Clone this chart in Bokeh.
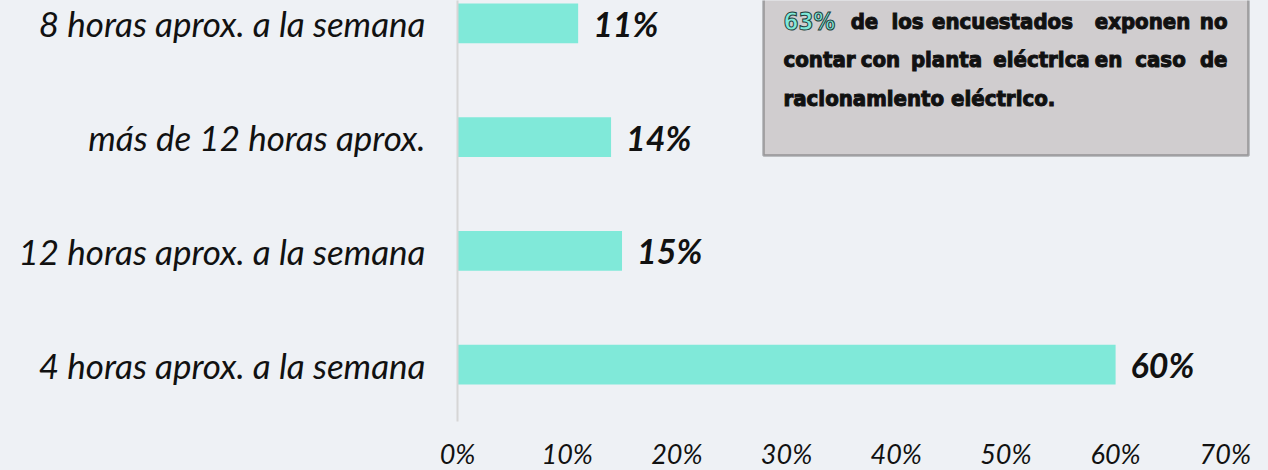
from bokeh.plotting import figure
from bokeh.models import Range1d, FixedTicker, ColumnDataSource, BoxAnnotation, Label
from bokeh.core.properties import value
from bokeh.embed import file_html
from bokeh.resources import INLINE

# ---- data ----
categories = ["4 horas aprox. a la semana", "12 horas aprox. a la semana",
              "más de 12 horas aprox.", "8 horas aprox. a la semana"]
percentages = [60, 15, 14, 11]
x_ticks = [0, 10, 20, 30, 40, 50, 60, 70]
x_tick_labels = ["0%", "10%", "20%", "30%", "40%", "50%", "60%", "70%"]
note_lines = [
    ["63%", "de", "los", "encuestados", "exponen", "no"],
    ["contar", "con", "planta", "eléctrica", "en", "caso", "de"],
    ["racionamiento eléctrico."],
]

# ---- layout constants ----
BG = "#eef1f5"
BAR = "#80e9d9"
FRAME_L = 457
FRAME_W, FRAME_H = 793, 421
X_END = 72.3
Y_START, Y_END = -0.5, 3.202

ypos = list(range(len(categories)))
src = ColumnDataSource(dict(y=ypos, v=percentages,
                            lab=[f"{v}%" for v in percentages]))

p = figure(frame_width=FRAME_W, frame_height=FRAME_H,
           x_range=Range1d(0, X_END), y_range=Range1d(Y_START, Y_END),
           output_backend="svg", toolbar_location=None,
           min_border_left=FRAME_L, min_border_right=18,
           min_border_top=0, min_border_bottom=49,
           background_fill_color=BG, border_fill_color=BG)
p.outline_line_color = None
p.xgrid.visible = False
p.ygrid.visible = False

p.hbar(y="y", right="v", left=0, height=0.35, source=src,
       fill_color=BAR, line_color=None)
p.text(x="v", y="y", text="lab", source=src, x_offset=15,
       text_font=value("Lato"), text_font_style="bold italic",
       text_font_size="34px", text_color="#111111",
       text_baseline="middle", text_align="left")

# axes
p.xaxis.ticker = FixedTicker(ticks=x_ticks)
p.xaxis.major_label_overrides = {t: l for t, l in zip(x_ticks, x_tick_labels)}
p.xaxis.axis_line_color = None
p.xaxis.major_tick_line_color = None
p.xaxis.minor_tick_line_color = None
p.xaxis.major_label_text_font = "Lato"
p.xaxis.major_label_text_font_style = "italic"
p.xaxis.major_label_text_font_size = "27px"
p.xaxis.major_label_text_color = "#111111"
p.xaxis.major_label_standoff = 9

p.yaxis.ticker = FixedTicker(ticks=ypos)
p.yaxis.major_label_overrides = {i: c for i, c in zip(ypos, categories)}
p.yaxis.axis_line_color = "#d6d6d6"
p.yaxis.axis_line_width = 2
p.yaxis.major_tick_line_color = None
p.yaxis.minor_tick_line_color = None
p.yaxis.major_label_text_font = "Lato"
p.yaxis.major_label_text_font_style = "italic"
p.yaxis.major_label_text_font_size = "35px"
p.yaxis.major_label_text_color = "#111111"
p.yaxis.major_label_standoff = 26

# helpers: convert reference-image pixels to data units
PX_PER_X = FRAME_W / X_END
PX_PER_Y = FRAME_H / (Y_END - Y_START)
def px2x(px):
    return (px - FRAME_L) / PX_PER_X
def py2y(py):
    return Y_END - py / PX_PER_Y

# note box
box = BoxAnnotation(left=px2x(763), right=px2x(1248), bottom=py2y(155), top=py2y(-30),
                    fill_color="#d0cdcf", fill_alpha=1.0,
                    line_color="#111111", line_width=2.5)
p.add_layout(box)

# word anchors (justified paragraph): (pixel x, alignment)
word_anchor = [
    [(783, "left"), (864, "center"), (907, "center"), (1002, "center"),
     (1142, "center"), (1227, "right")],
    [(783, "left"), (880, "center"), (946, "center"), (1041, "center"),
     (1108, "center"), (1160, "center"), (1227, "right")],
    [(783, "left")],
]
line_base = [21, 59, 98]
NOTE_FONT = "Liberation Sans Narrow, DejaVu Sans Condensed, Roboto"
for words, anchors, base in zip(note_lines, word_anchor, line_base):
    for w, (xp, al) in zip(words, anchors):
        teal = (w == "63%")
        lab = Label(x=px2x(xp), y=py2y(base), text=w,
                    text_font=NOTE_FONT, text_font_style="bold",
                    text_font_size="24px" if teal else "22px",
                    text_color="#80e9d9" if teal else "#111111",
                    text_outline_color="#1d3d3a" if teal else "#111111",
                    text_baseline="alphabetic", text_align=al)
        p.add_layout(lab)

html = file_html(p, INLINE)
html = html.replace("<head>", "<head><style>body{background:%s;}</style>" % BG, 1)
open("out.html", "w").write(html)
